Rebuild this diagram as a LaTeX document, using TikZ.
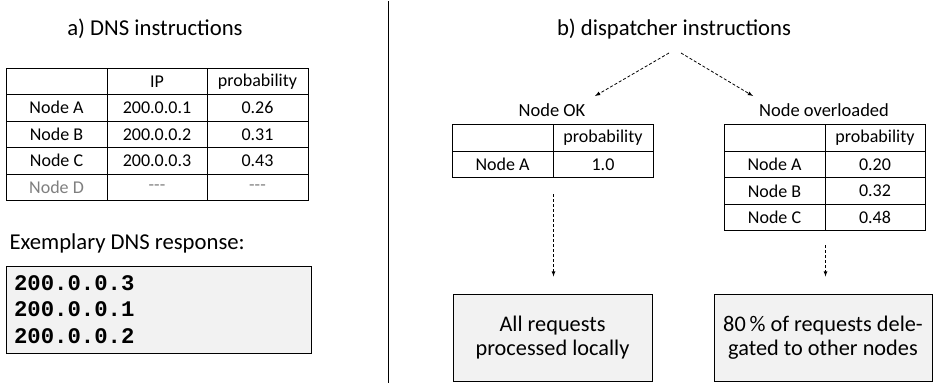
\documentclass[tikz,border=0pt]{standalone}
\usepackage{fontspec}
\setmainfont{Carlito}
\newfontfamily\respfont{Liberation Mono}
\usepackage{xcolor}
\usetikzlibrary{arrows,positioning}

\definecolor{boxgray}{HTML}{F2F2F2}
\definecolor{offgray}{HTML}{7F7F7F}

\tikzset{
	cell/.style={draw, line width=1pt, inner sep=0pt, minimum height=26.5pt, font=\fontsize{18}{21}\selectfont},
	widecell/.style={cell, minimum width=101pt},
	narrowcell/.style={cell, minimum width=100pt},
	caption/.style={font=\fontsize{22.7}{26}\selectfont},
	sublabel/.style={font=\fontsize{18.5}{22}\selectfont},
	resultbox/.style={draw, line width=1pt, fill=boxgray, align=center, minimum height=87pt, inner sep=0pt, font=\fontsize{22.3}{24.5}\selectfont},
	flow/.style={-latex, densely dashed, line width=0.8pt}
}

\begin{document}
\begin{tikzpicture}[x=1pt,y=-1pt]
	\useasboundingbox (0,0) rectangle (933,383);
	% a) DNS instructions
	\node[caption] (capA) at (155,29) {a) DNS instructions};
	\foreach \cA/\cB/\cC [count=\r from 0] in {/IP/probability, Node A/200.0.0.1/0.26, Node B/200.0.0.2/0.31, Node C/200.0.0.3/0.43}{
		\node[widecell] (dns-\r-1) at (56.5,{81.25+26.5*\r}) {\cA};
		\node[narrowcell] (dns-\r-2) at (157,{81.25+26.5*\r}) {\cB};
		\node[widecell] (dns-\r-3) at (257.5,{81.25+26.5*\r}) {\cC};
	}
	\node[widecell,text=offgray] (dns-4-1) at (56.5,187.25) {Node D};
	\node[narrowcell,text=offgray] (dns-4-2) at (157,187.25) {-{}-{}-};
	\node[widecell,text=offgray] (dns-4-3) at (257.5,187.25) {-{}-{}-};
	\node[caption,anchor=west] (resplabel) at (6,243) {Exemplary DNS response:};
	\node[draw, line width=1pt, fill=boxgray, minimum width=305pt, minimum height=87pt, text width=289pt, inner sep=8pt, align=left, font=\respfont\bfseries\fontsize{22.3}{26.5}\selectfont] (resp) at (158.5,309.5) {200.0.0.3\\200.0.0.1\\200.0.0.2};
	% separator
	\coordinate (septop) at (388,1);
	\coordinate (sepbot) at (388,383);
	\draw[line width=1pt] (septop) -- (sepbot);
	% b) dispatcher instructions
	\node[caption] (capB) at (674,29) {b) dispatcher instructions};
	\coordinate (forkL) at (669,53);
	\coordinate (forkR) at (681,53);
	\node[sublabel] (okLabel) at (552,110) {Node OK};
	\node[sublabel] (ovLabel) at (824,110) {Node overloaded};
	\coordinate (okTip) at (595,96);
	\coordinate (ovTip) at (753,96);
	\draw[flow] (forkL) -- (okTip);
	\draw[flow] (forkR) -- (ovTip);
	% node OK table
	\foreach \cA/\cB [count=\r from 0] in {/probability, Node A/1.0}{
		\node[widecell] (ok-\r-1) at (502.5,{138+26.5*\r}) {\cA};
		\node[narrowcell] (ok-\r-2) at (603,{138+26.5*\r}) {\cB};
	}
	% node overloaded table
	\foreach \cA/\cB [count=\r from 0] in {/probability, Node A/0.20, Node B/0.32, Node C/0.48}{
		\node[widecell] (ov-\r-1) at (774.5,{138+26.5*\r}) {\cA};
		\node[narrowcell] (ov-\r-2) at (875,{138+26.5*\r}) {\cB};
	}
	% results
	\node[resultbox, minimum width=199pt] (okResult) at (552.5,337.5) {All requests\\processed locally};
	\node[resultbox, minimum width=218pt] (ovResult) at (823,337.5) {80\,\% of requests dele-\\gated to other nodes};
	\draw[flow, shorten <=16pt, shorten >=17pt] (ok-1-1.south east) -- (ok-1-1.south east |- okResult.north);
	\draw[flow, shorten <=14pt, shorten >=17pt] (ov-3-1.south east) -- (ov-3-1.south east |- ovResult.north);
\end{tikzpicture}
\end{document}
